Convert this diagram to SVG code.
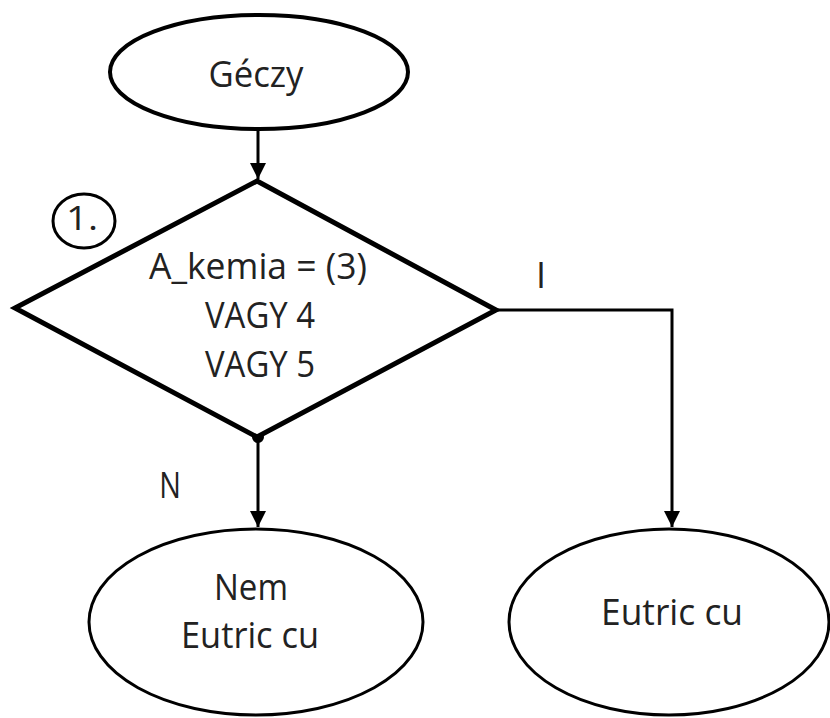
<svg xmlns="http://www.w3.org/2000/svg" width="830" height="718" viewBox="0 0 830 718">
  <style>
    .shape { fill: #ffffff; stroke: #000000; }
    .lbl { font-family: "Open Sans", "Liberation Sans", sans-serif; fill: #222222; text-anchor: middle; font-size: 36px; }
    .conn { fill: none; stroke: #000000; stroke-width: 3; }
  </style>
  <defs>
    <marker id="arrow" markerWidth="20" markerHeight="16" refX="16" refY="8" orient="auto" markerUnits="userSpaceOnUse">
      <path d="M0,0 L16,8 L0,16 Z" fill="#000000"/>
    </marker>
  </defs>
  <rect width="830" height="718" fill="#ffffff"/>

  <!-- connectors -->
  <g id="connectors">
    <line class="conn" x1="258" y1="130" x2="258" y2="179" marker-end="url(#arrow)"/>
    <line class="conn" x1="258" y1="438" x2="258" y2="527" marker-end="url(#arrow)"/>
    <polyline class="conn" points="496,310 672,310 672,527" marker-end="url(#arrow)"/>
    <circle cx="258" cy="437" r="6" fill="#000000"/>
    <text class="lbl" x="541" y="288">I</text>
    <text class="lbl" x="170" y="498" transform="translate(170 498) scale(0.8 1) translate(-170 -498)">N</text>
  </g>

  <!-- start node -->
  <g id="start">
    <ellipse class="shape" cx="259" cy="72" rx="149" ry="57" stroke-width="4"/>
    <text class="lbl" x="256" y="87" textLength="95" lengthAdjust="spacingAndGlyphs">Géczy</text>
  </g>

  <!-- decision 1 -->
  <g id="decision1">
    <polygon class="shape" points="257,181 496,310 257,437 15,308" stroke-width="5" stroke-linejoin="miter"/>
    <text class="lbl" x="258" y="279" textLength="218" lengthAdjust="spacingAndGlyphs">A_kemia = (3)</text>
    <text class="lbl" x="260" y="328" textLength="110" lengthAdjust="spacingAndGlyphs">VAGY 4</text>
    <text class="lbl" x="260" y="377" textLength="110" lengthAdjust="spacingAndGlyphs">VAGY 5</text>
  </g>

  <!-- step number -->
  <g id="step1">
    <ellipse class="shape" cx="84" cy="221" rx="31" ry="27" stroke-width="3"/>
    <text class="lbl" x="82" y="230" style="font-size:33px" textLength="32" lengthAdjust="spacingAndGlyphs">1.</text>
  </g>

  <!-- outcome: no -->
  <g id="outcome-no">
    <ellipse class="shape" cx="256" cy="622" rx="167" ry="93" stroke-width="3"/>
    <text class="lbl" x="251" y="600" textLength="74" lengthAdjust="spacingAndGlyphs">Nem</text>
    <text class="lbl" x="250" y="648" textLength="138" lengthAdjust="spacingAndGlyphs">Eutric cu</text>
  </g>

  <!-- outcome: yes -->
  <g id="outcome-yes">
    <ellipse class="shape" cx="669" cy="622" rx="160" ry="93" stroke-width="3"/>
    <text class="lbl" x="672" y="625" textLength="142" lengthAdjust="spacingAndGlyphs">Eutric cu</text>
  </g>
</svg>
